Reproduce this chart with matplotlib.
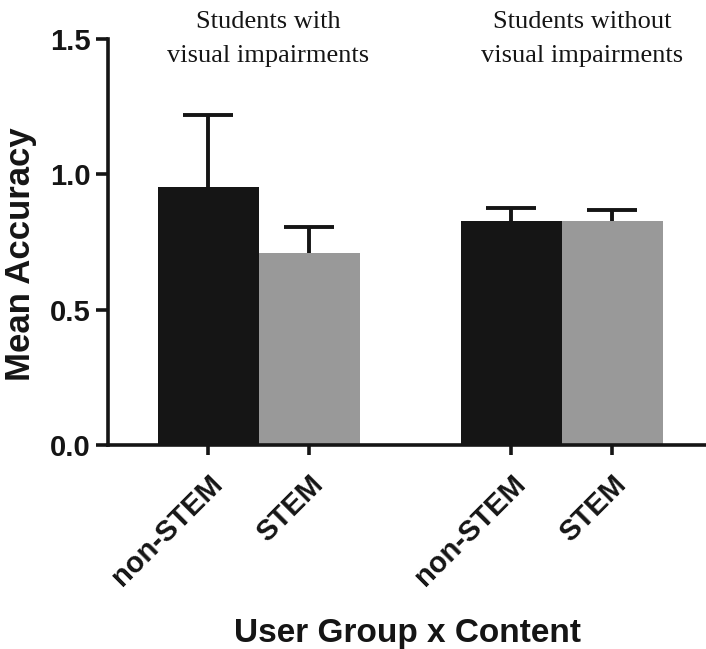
import numpy as np
import matplotlib
matplotlib.use("Agg")
import matplotlib.pyplot as plt

# data
categories = ["non-STEM", "STEM", "non-STEM", "STEM"]
means = [0.953, 0.709, 0.827, 0.827]
upper_err = [0.266, 0.095, 0.048, 0.041]
groups = ["Students with\nvisual impairments", "Students without\nvisual impairments"]
y_ticks = [0.0, 0.5, 1.0, 1.5]

x = np.array([0, 1, 3, 4])
colors = ["#151515", "#999999", "#151515", "#999999"]
ink = "#151515"

fig = plt.figure(figsize=(7.06, 6.49), dpi=100)
ax = fig.add_axes([0.153, 0.3143, 0.847, 0.6256])

ax.bar(x, means, width=1.0, color=colors, edgecolor="none", zorder=2)

# one-sided (upper) error bars with a cap only at the top
tops = np.array(means) + np.array(upper_err)
ax.vlines(x, means, tops, color=ink, linewidth=2.8, zorder=3)
ax.hlines(tops, x - 0.25, x + 0.25, color=ink, linewidth=2.8, zorder=3)

ax.set_xlim(-0.99, 4.93)
ax.set_ylim(0, 1.5)
ax.set_yticks(y_ticks)
ax.set_yticklabels(["0.0", "0.5", "1.0", "1.5"])
ax.set_xticks(x)
ax.set_xticklabels(categories, rotation=45, ha="right", rotation_mode="anchor")

for side in ["top", "right"]:
    ax.spines[side].set_visible(False)
for side in ["left", "bottom"]:
    ax.spines[side].set_linewidth(2.6)
    ax.spines[side].set_color(ink)

ax.tick_params(axis="y", length=8.6, width=2.6, pad=4, color=ink)
ax.tick_params(axis="x", length=7, width=2.6, pad=11, color=ink)
for lab in ax.get_xticklabels() + ax.get_yticklabels():
    lab.set_fontfamily("Liberation Sans")
    lab.set_fontweight("bold")
    lab.set_fontsize(21)
    lab.set_color(ink)

ax.set_ylabel("Mean Accuracy", fontfamily="Liberation Sans", fontweight="bold",
              fontsize=25, color=ink)
ax.yaxis.set_label_coords(-0.118, 0.47)
ax.set_xlabel("User Group x Content", fontfamily="Liberation Sans", fontweight="bold",
              fontsize=24, color=ink, labelpad=19)

# group titles
for gx, g in zip([0.594, 3.70], groups):
    ax.text(gx, 1.415, g, ha="center", va="baseline", fontfamily="Liberation Serif",
            fontsize=19, color=ink, linespacing=1.7, clip_on=False)

fig.savefig("out.png", dpi=100)
